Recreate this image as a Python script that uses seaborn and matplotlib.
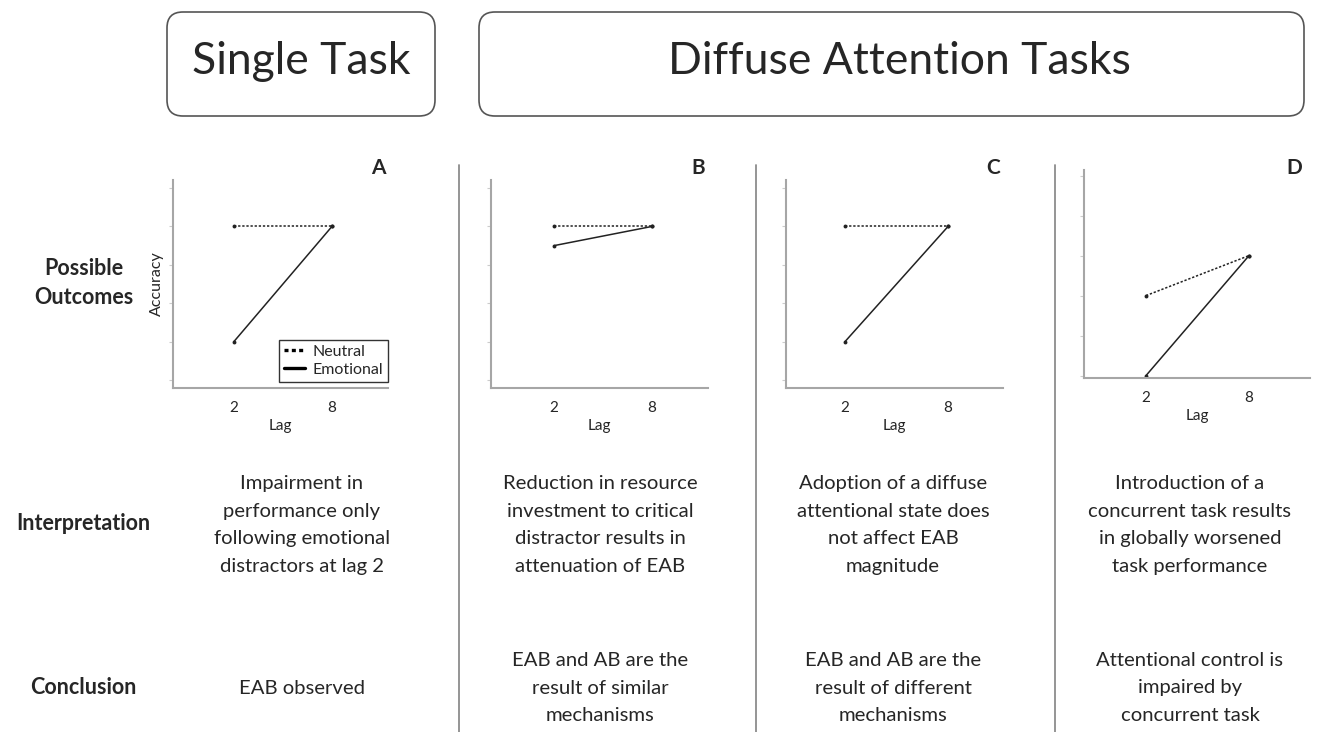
import pandas as pd
import matplotlib.pyplot as plt
import seaborn as sns
from matplotlib.patches import FancyBboxPatch
from matplotlib.lines import Line2D

sns.set_theme(style="white")
plt.rcParams["font.family"] = ["Lato", "DejaVu Sans"]

# data
panels = ["A", "B", "C", "D"]
lags = [2, 8]
neutral_lag2 = [0.9, 0.9, 0.9, 0.7]
neutral_lag8 = [0.9, 0.9, 0.9, 0.8]
emotional_lag2 = [0.6, 0.85, 0.6, 0.5]
emotional_lag8 = [0.9, 0.9, 0.9, 0.8]
y_ticks = [0.5, 0.6, 0.7, 0.8, 0.9, 1.0]

interpretations = [
    "Impairment in\nperformance only\nfollowing emotional\ndistractors at lag 2",
    "Reduction in resource\ninvestment to critical\ndistractor results in\nattenuation of EAB",
    "Adoption of a diffuse\nattentional state does\nnot affect EAB\nmagnitude",
    "Introduction of a\nconcurrent task results\nin globally worsened\ntask performance",
]
conclusions = [
    "EAB observed",
    "EAB and AB are the\nresult of similar\nmechanisms",
    "EAB and AB are the\nresult of different\nmechanisms",
    "Attentional control is\nimpaired by\nconcurrent task",
]

rows = []
for i, p in enumerate(panels):
    rows.append((p, "Neutral", lags[0], neutral_lag2[i]))
    rows.append((p, "Neutral", lags[1], neutral_lag8[i]))
    rows.append((p, "Emotional", lags[0], emotional_lag2[i]))
    rows.append((p, "Emotional", lags[1], emotional_lag8[i]))
df = pd.DataFrame(rows, columns=["Panel", "Condition", "Lag", "Accuracy"])

W, H = 1324, 732
fig = plt.figure(figsize=(W / 100, H / 100), dpi=100)


def fx(x):
    return x / W


def fy(y):
    return 1 - y / H


# axes boxes in pixels: left, top, right, bottom
boxes = [(173, 180, 388, 388), (491, 180, 708, 388), (786, 180, 1003, 388), (1084, 170, 1310, 378)]
ylims = [(0.479, 1.021), (0.479, 1.021), (0.479, 1.021), (0.494, 1.014)]
xlims = [(-1.73, 11.43), (-1.86, 11.43), (-1.44, 11.2), (-1.61, 11.55)]
text_x = [302, 600, 893, 1190]
grey = "#a6a6a6"

for i, p in enumerate(panels):
    l, t, r, b = boxes[i]
    ax = fig.add_axes([fx(l), fy(b), (r - l) / W, (b - t) / H])
    sub = df[df["Panel"] == p]
    sns.lineplot(data=sub, x="Lag", y="Accuracy", style="Condition",
                 dashes={"Neutral": (1.5, 1.2), "Emotional": ""},
                 markers={"Neutral": "o", "Emotional": "o"},
                 color="#222222", linewidth=1.1, markersize=2.8,
                 markeredgewidth=0, legend=False, ax=ax)
    ax.set_xlim(*xlims[i])
    ax.set_ylim(*ylims[i])
    ax.set_xticks(lags)
    ax.set_xticklabels([str(v) for v in lags], fontsize=11)
    ax.set_yticks(y_ticks)
    ax.set_yticklabels([])
    ax.tick_params(axis="y", length=3, width=0.8, color="#cccccc", direction="out", left=True)
    ax.tick_params(axis="x", length=0, pad=9)
    for s in ["top", "right"]:
        ax.spines[s].set_visible(False)
    for s in ["left", "bottom"]:
        ax.spines[s].set_color(grey)
        ax.spines[s].set_linewidth(1.5)
    ax.set_xlabel("Lag", fontsize=11, labelpad=3)
    if i == 0:
        ax.set_ylabel("Accuracy", fontsize=11.5, labelpad=0)
        handles = [Line2D([], [], color="black", lw=2.4, dashes=(1.2, 1.0)),
                   Line2D([], [], color="black", lw=2.4)]
        leg = ax.legend(handles, ["Neutral", "Emotional"], loc="lower right",
                        bbox_to_anchor=(1.0, 0.03), fontsize=11.5, frameon=True,
                        fancybox=False, handlelength=1.3, handletextpad=0.5,
                        borderpad=0.3, labelspacing=0.25, borderaxespad=0)
        leg.get_frame().set_edgecolor("black")
        leg.get_frame().set_linewidth(1.0)
    else:
        ax.set_ylabel("")

    # panel letter
    fig.text(fx(r - 10 if i < 3 else r - 16), fy(168), p, fontsize=15, fontweight="bold",
             ha="center", va="center")
    fig.text(fx(text_x[i]), fy(525), interpretations[i], fontsize=14.6, ha="center",
             va="center", linespacing=1.75)
    fig.text(fx(text_x[i]), fy(688), conclusions[i], fontsize=14.6, ha="center",
             va="center", linespacing=1.75)

# dividers
for x in [459, 756, 1055]:
    fig.add_artist(Line2D([fx(x), fx(x)], [fy(165), fy(H)], color="#8c8c8c", lw=1.3))

# header boxes
for (x0, x1, label, cx) in [(167, 435, "Single Task", 301), (479, 1304, "Diffuse Attention Tasks", 899)]:
    box = FancyBboxPatch((fx(x0), fy(116)), (x1 - x0) / W, (116 - 12) / H,
                         boxstyle="round,pad=0,rounding_size=0.012",
                         transform=fig.transFigure, facecolor="white",
                         edgecolor="#555555", linewidth=1.2, mutation_aspect=W / H)
    fig.add_artist(box)
    fig.text(fx(cx), fy(62), label, fontsize=32, ha="center", va="center")

# row labels
fig.text(fx(84), fy(283), "Possible\nOutcomes", fontsize=15.5, fontweight="bold",
         ha="center", va="center", linespacing=1.5)
fig.text(fx(83), fy(523), "Interpretation", fontsize=15.5, fontweight="bold",
         ha="center", va="center")
fig.text(fx(83), fy(688), "Conclusion", fontsize=15.5, fontweight="bold",
         ha="center", va="center")

fig.savefig("out.png", dpi=100)
